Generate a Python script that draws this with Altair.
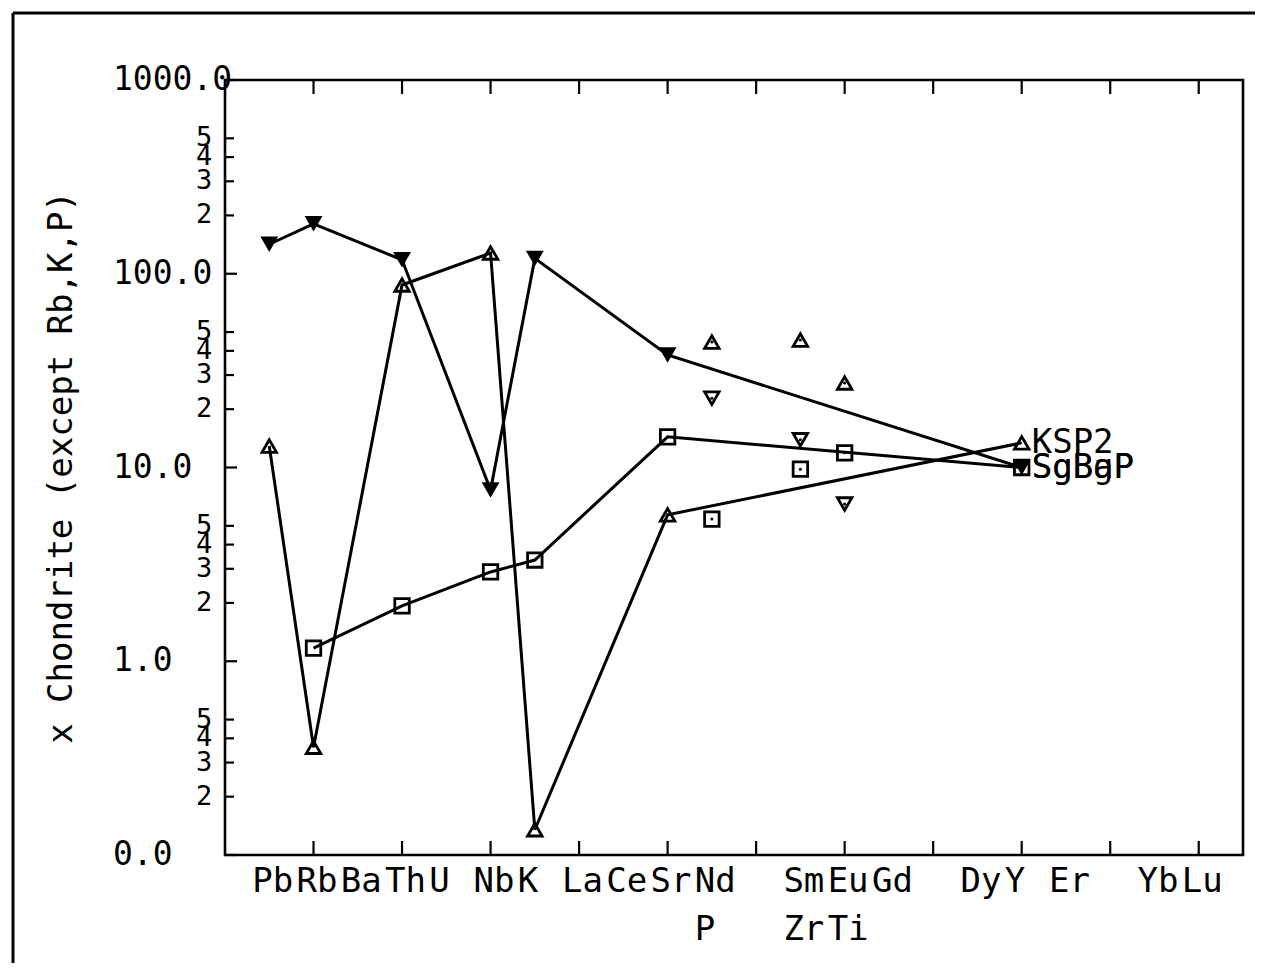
import altair as alt
import pandas as pd

# ---------------- data ----------------
elements_row1 = ["Pb", "Rb", "Ba", "Th", "U", "Nb", "K", "La", "Ce", "Sr", "Nd",
                 "Sm", "Eu", "Gd", "Dy", "Y", "Er", "Yb", "Lu"]
slots_row1 = [1, 2, 3, 4, 5, 6, 7, 8, 9, 10, 11, 13, 14, 15, 17, 18, 19, 21, 22]
elements_row2 = ["P", "Zr", "Ti"]
slots_row2 = [11, 13, 14]
slot = dict(zip(elements_row1 + elements_row2, slots_row1 + slots_row2))

x_ticks = [2, 4, 6, 8, 10, 12, 14, 16, 18, 20, 22]
y_major = [0.1, 1, 10, 100, 1000]
y_major_labels = ["0.0", "1.0", "10.0", "100.0", "1000.0"]
minor_mult = [2, 3, 4, 5]
decades = [0.1, 1, 10, 100]

ksp2_el = ["Pb", "Rb", "Th", "Nb", "K", "Sr", "Y"]
ksp2_val = [12.9, 0.36, 87.5, 128, 0.135, 5.7, 13.4]
ksp2_extra_el = ["P", "Zr", "Ti"]
ksp2_extra_val = [44.4, 45.5, 27.3]

sgbgp_el = ["Pb", "Rb", "Th", "Nb", "K", "Sr", "Y"]
sgbgp_val = [142, 181, 118, 7.65, 120, 38.1, 10.0]
sgbgp_extra_el = ["P", "Zr", "Ti"]
sgbgp_extra_val = [22.8, 13.9, 6.48]

sgbap_el = ["Rb", "Th", "Nb", "K", "Sr", "Y"]
sgbap_val = [1.17, 1.93, 2.89, 3.33, 14.4, 10.0]
sgbap_extra_el = ["P", "Zr", "Ti"]
sgbap_extra_val = [5.42, 9.8, 11.9]

# ---------------- tables ----------------
def table(name, els, vals):
    return pd.DataFrame({"series": name, "element": els,
                         "slot": [slot[e] for e in els], "value": vals})

main_sets = [table("KSP2", ksp2_el, ksp2_val),
             table("SgBgP", sgbgp_el, sgbgp_val),
             table("SgBaP", sgbap_el, sgbap_val)]
extra_sets = [table("KSP2", ksp2_extra_el, ksp2_extra_val),
              table("SgBgP", sgbgp_extra_el, sgbgp_extra_val),
              table("SgBaP", sgbap_extra_el, sgbap_extra_val)]
lines_df = pd.concat(main_sets, ignore_index=True)
ends_df = pd.concat([d.tail(1) for d in main_sets], ignore_index=True)

W, H = 1018, 775
FONT = "DejaVu Sans Mono"

xs = alt.Scale(domain=[0, 23], nice=False, zero=False)
ys = alt.Scale(type="log", domain=[0.1, 1000], nice=False)
X = lambda f="slot": alt.X(f"{f}:Q", scale=xs, axis=None)
Y = lambda f="value": alt.Y(f"{f}:Q", scale=ys, axis=None)

layers = []

# outer page frame
layers.append(alt.Chart(pd.DataFrame({"a": [0]})).mark_rule(color="black", strokeWidth=3).encode(
    x=alt.value(-212), y=alt.value(-67), y2=alt.value(900)))
layers.append(alt.Chart(pd.DataFrame({"a": [0]})).mark_rule(color="black", strokeWidth=3).encode(
    x=alt.value(-212), x2=alt.value(1045), y=alt.value(-67)))

# x ticks (bottom and top, inward)
xt = pd.DataFrame({"slot": x_ticks})
layers.append(alt.Chart(xt).mark_rule(color="black", strokeWidth=2.2).encode(
    x=X(), y=alt.value(H), y2=alt.value(H - 14)))
layers.append(alt.Chart(xt).mark_rule(color="black", strokeWidth=2.2).encode(
    x=X(), y=alt.value(0), y2=alt.value(14)))

# y ticks
ymaj = pd.DataFrame({"value": y_major, "label": y_major_labels})
ymin = pd.DataFrame({"value": [m * d for d in decades for m in minor_mult],
                     "label": [str(m) for d in decades for m in minor_mult]})
layers.append(alt.Chart(ymaj).mark_rule(color="black", strokeWidth=2.2).encode(
    y=Y(), x=alt.value(0), x2=alt.value(12)))
layers.append(alt.Chart(ymin).mark_rule(color="black", strokeWidth=2.2).encode(
    y=Y(), x=alt.value(0), x2=alt.value(9)))

# y labels
layers.append(alt.Chart(ymaj).mark_text(font=FONT, fontSize=33, align="left",
                                        baseline="middle", color="black").encode(
    y=Y(), x=alt.value(-112), text="label:N"))
layers.append(alt.Chart(ymin).mark_text(font=FONT, fontSize=27, align="center",
                                        baseline="middle", color="black").encode(
    y=Y(), x=alt.value(-21), text="label:N"))

# y title
layers.append(alt.Chart(pd.DataFrame({"t": ["x Chondrite (except Rb,K,P)"]})).mark_text(
    font=FONT, fontSize=34, angle=270, align="center", baseline="middle", color="black").encode(
    x=alt.value(-163), y=alt.value(H / 2), text="t:N"))

# element labels
r1 = pd.DataFrame({"slot": slots_row1, "el": elements_row1})
r2 = pd.DataFrame({"slot": slots_row2, "el": elements_row2})
layers.append(alt.Chart(r1).mark_text(font=FONT, fontSize=34, align="left", dx=-17,
                                      baseline="alphabetic", color="black").encode(
    x=X(), y=alt.value(812), text="el:N"))
layers.append(alt.Chart(r2).mark_text(font=FONT, fontSize=34, align="left", dx=-17,
                                      baseline="alphabetic", color="black").encode(
    x=X(), y=alt.value(860), text="el:N"))

# connecting lines
layers.append(alt.Chart(lines_df).mark_line(color="black", strokeWidth=3).encode(
    x=X(), y=Y(), detail="series:N", order="slot:Q"))

shapes = {"KSP2": ("triangle-up", False, 210),
          "SgBgP": ("triangle-down", True, 320),
          "SgBaP": ("square", False, 210)}

for d in main_sets:
    shp, filled, size = shapes[d["series"].iloc[0]]
    layers.append(alt.Chart(d).mark_point(shape=shp, filled=filled, size=size, color="black",
                                          strokeWidth=2.8, opacity=1).encode(x=X(), y=Y()))
for d in extra_sets:
    shp, filled, size = shapes[d["series"].iloc[0]]
    layers.append(alt.Chart(d).mark_point(shape=shp, filled=False, size=210, color="black",
                                          strokeWidth=2.8, opacity=1).encode(x=X(), y=Y()))
    layers.append(alt.Chart(d).mark_point(shape="circle", filled=True, size=9, color="black",
                                          opacity=1).encode(x=X(), y=Y()))

# series labels at the end points
layers.append(alt.Chart(ends_df).mark_text(font=FONT, fontSize=34, align="left", dx=10,
                                           baseline="middle", color="black").encode(
    x=X(), y=Y(), text="series:N"))

chart = alt.layer(*layers).properties(
    width=W, height=H,
    padding={"left": 217, "top": 72, "right": 12, "bottom": 108},
    autosize=alt.AutoSizeParams(type="none"),
    background="white",
).configure_view(stroke="black", strokeWidth=2.6)

chart.save("out.html", embed_options={"renderer": "svg", "actions": False})
